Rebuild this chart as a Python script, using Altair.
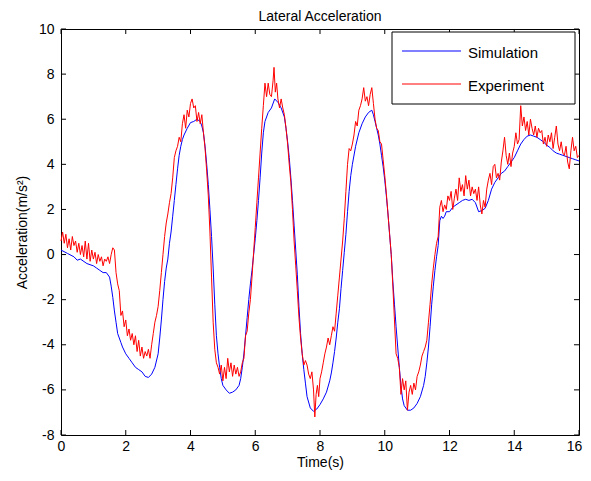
import altair as alt
import pandas as pd

# ---- Simulation (blue) ----
sim_t = [0.0, 0.2, 0.4, 0.5, 0.6, 0.8, 1.0, 1.1, 1.2, 1.3, 1.4, 1.5, 1.55, 1.6, 1.65, 1.7, 1.75, 1.8, 1.85, 1.9,
         2.0, 2.1, 2.2, 2.3, 2.4, 2.5, 2.6, 2.7, 2.8, 2.9, 3.0, 3.05, 3.1, 3.15, 3.2, 3.25, 3.3, 3.35, 3.4, 3.45,
         3.5, 3.55, 3.6, 3.65, 3.7, 3.75, 3.8, 3.9, 4.0, 4.1, 4.2, 4.3, 4.35, 4.4, 4.45, 4.5, 4.55, 4.6, 4.65, 4.7,
         4.75, 4.8, 4.85, 4.9, 4.95, 5.0, 5.1, 5.2, 5.3, 5.4, 5.5, 5.55, 5.6, 5.65, 5.7, 5.75, 5.8, 5.85, 5.9, 5.95,
         6.0, 6.05, 6.1, 6.15, 6.2, 6.25, 6.3, 6.4, 6.5, 6.6, 6.7, 6.8, 6.9, 6.95, 7.0, 7.05, 7.1, 7.15, 7.2, 7.25,
         7.3, 7.35, 7.4, 7.45, 7.5, 7.55, 7.6, 7.7, 7.8, 7.9, 8.0, 8.1, 8.2, 8.3, 8.35, 8.4, 8.45, 8.5, 8.55, 8.6,
         8.65, 8.7, 8.75, 8.8, 8.85, 8.9, 8.95, 9.0, 9.1, 9.2, 9.3, 9.4, 9.5, 9.6, 9.65, 9.7, 9.75, 9.8, 9.85, 9.9,
         9.95, 10.0, 10.05, 10.1, 10.15, 10.2, 10.25, 10.3, 10.35, 10.4, 10.45, 10.5, 10.55, 10.6, 10.7, 10.8, 10.9,
         11.0, 11.1, 11.2, 11.25, 11.3, 11.35, 11.4, 11.45, 11.5, 11.55, 11.6, 11.65, 11.7, 11.75, 11.8, 11.85, 11.9,
         12.0, 12.1, 12.2, 12.3, 12.4, 12.5, 12.6, 12.7, 12.8, 12.9, 13.0, 13.1, 13.2, 13.3, 13.4, 13.5, 13.6, 13.7,
         13.8, 13.9, 14.0, 14.1, 14.2, 14.3, 14.4, 14.5, 14.6, 14.7, 14.8, 14.9, 15.0, 15.1, 15.2, 15.3, 15.4, 15.5,
         15.6, 15.7, 15.8, 15.9, 16.0]
sim_v = [0.2, 0.05, -0.1, -0.25, -0.2, -0.4, -0.5, -0.6, -0.7, -0.8, -0.8, -1.0, -1.4, -1.9, -2.5, -3.0, -3.5, -3.7, -3.9, -4.1,
         -4.4, -4.6, -4.8, -5.0, -5.1, -5.2, -5.4, -5.45, -5.3, -5.0, -4.4, -3.7, -2.9, -2.0, -1.2, -0.6, -0.2, 0.5, 1.0, 1.7,
         2.4, 3.1, 3.8, 4.4, 4.8, 5.1, 5.3, 5.6, 5.85, 5.9, 6.0, 5.9, 5.7, 5.4, 4.8, 4.0, 3.1, 2.0, 0.8, -0.6,
         -2.2, -3.6, -4.4, -5.0, -5.5, -5.8, -6.0, -6.15, -6.1, -6.0, -5.8, -5.5, -5.0, -4.4, -3.6, -2.8, -2.0, -1.3, -0.7, 0.0,
         0.7, 1.5, 2.4, 3.4, 4.5, 5.4, 5.9, 6.3, 6.5, 6.9, 6.75, 6.5, 6.1, 5.6, 5.0, 4.3, 3.4, 2.4, 1.3, 0.2,
         -0.9, -2.3, -3.5, -4.4, -5.1, -5.7, -6.3, -6.8, -6.95, -6.85, -6.65, -6.4, -6.1, -5.6, -5.25, -4.8, -4.3, -3.7, -3.0, -2.4,
         -1.5, -0.7, 0.1, 0.9, 1.9, 2.8, 3.5, 4.0, 4.8, 5.4, 5.8, 6.1, 6.3, 6.4, 6.2, 5.9, 5.6, 5.3, 4.9, 4.4,
         3.9, 3.3, 2.6, 1.8, 0.9, 0.0, -1.2, -2.2, -3.2, -4.1, -5.0, -5.8, -6.4, -6.7, -6.9, -6.9, -6.8,
         -6.6, -6.3, -5.8, -5.4, -4.8, -4.1, -3.2, -2.2, -1.4, -0.7, -0.1, 0.4, 1.5, 1.7, 1.6, 1.7, 1.9,
         1.9, 2.1, 2.2, 2.3, 2.4, 2.45, 2.4, 2.45, 2.3, 1.9, 1.95, 2.05, 2.4, 2.9, 3.2, 3.4, 3.6, 3.7,
         3.9, 4.1, 4.3, 4.6, 4.9, 5.1, 5.25, 5.3, 5.25, 5.2, 5.1, 5.0, 4.85, 4.75, 4.6, 4.5, 4.45, 4.4,
         4.35, 4.3, 4.25, 4.2, 4.15]

# ---- Experiment (red) ----
exp_t = [0.00, 0.05, 0.10, 0.15, 0.20, 0.25, 0.30, 0.35, 0.40, 0.45, 0.50, 0.55, 0.60, 0.65, 0.70, 0.75, 0.80, 0.85,
         0.90, 0.95, 1.00, 1.05, 1.10, 1.15, 1.20, 1.25, 1.30, 1.35, 1.40, 1.45, 1.50, 1.55, 1.60, 1.65,
         1.70, 1.75, 1.80, 1.85, 1.90, 1.95, 2.00, 2.05, 2.10, 2.15, 2.20, 2.25, 2.30, 2.35, 2.40, 2.45, 2.50,
         2.55, 2.60, 2.65, 2.70, 2.75, 2.80, 2.85, 2.90, 2.95, 3.00, 3.05, 3.10, 3.15, 3.20, 3.25, 3.30, 3.35,
         3.40, 3.45, 3.50, 3.55, 3.60, 3.65, 3.70, 3.75, 3.80, 3.85, 3.90, 3.95, 4.00, 4.05, 4.10, 4.15, 4.20,
         4.25, 4.30, 4.35, 4.40, 4.45, 4.50, 4.55, 4.60, 4.65, 4.70, 4.75, 4.80, 4.85, 4.90, 4.95, 5.00, 5.05,
         5.10, 5.15, 5.20, 5.25, 5.30, 5.35, 5.40, 5.45, 5.50, 5.55, 5.60, 5.65, 5.70, 5.75, 5.80, 5.85, 5.90,
         5.95, 6.00, 6.05, 6.10, 6.15, 6.20, 6.25, 6.30, 6.35, 6.40, 6.45, 6.50, 6.55, 6.58, 6.62, 6.66, 6.70,
         6.75, 6.80, 6.85, 6.90, 6.95, 7.00, 7.05, 7.10, 7.15, 7.20, 7.25, 7.30, 7.35, 7.40, 7.45, 7.50, 7.55,
         7.60, 7.65, 7.70, 7.75, 7.80, 7.84, 7.88, 7.92, 7.96, 8.00, 8.05, 8.10, 8.15, 8.20, 8.25, 8.30, 8.35,
         8.40, 8.45, 8.50, 8.55, 8.60, 8.65, 8.70, 8.75, 8.80, 8.85, 8.90, 8.95, 9.00, 9.05, 9.10, 9.15, 9.20,
         9.25, 9.30, 9.35, 9.40, 9.45, 9.50, 9.55, 9.60, 9.65, 9.70, 9.75, 9.80, 9.85, 9.90, 9.95, 10.00, 10.05,
         10.10, 10.15, 10.20, 10.25, 10.30, 10.35, 10.40, 10.45, 10.50, 10.55, 10.60, 10.65, 10.70, 10.75, 10.80,
         10.85, 10.90, 10.95, 11.00, 11.05, 11.10, 11.15, 11.20, 11.25, 11.30, 11.35, 11.40, 11.45, 11.50, 11.55,
         11.60, 11.65, 11.70, 11.75, 11.80, 11.85, 11.90, 11.95, 12.00, 12.05, 12.10, 12.15, 12.20, 12.25, 12.30,
         12.35, 12.40, 12.45, 12.50, 12.55, 12.60, 12.65, 12.70, 12.75, 12.80, 12.85, 12.90, 12.95, 13.00, 13.05,
         13.10, 13.15, 13.20, 13.25, 13.30, 13.35, 13.40, 13.45, 13.50, 13.55, 13.60, 13.65, 13.70, 13.75, 13.80,
         13.85, 13.90, 13.95, 14.00, 14.05, 14.10, 14.15, 14.20, 14.25, 14.30, 14.35, 14.40, 14.45, 14.50, 14.55,
         14.60, 14.65, 14.70, 14.75, 14.80, 14.85, 14.90, 14.95, 15.00, 15.05, 15.10, 15.15, 15.20, 15.25, 15.30,
         15.35, 15.40, 15.45, 15.50, 15.55, 15.60, 15.65, 15.70, 15.75, 15.80, 15.85, 15.90, 15.95, 16.00]
exp_v = [0.6, 1.0, 0.5, 0.9, 0.3, 0.7, 0.2, 0.8, 0.4, 0.6, 0.1, 0.5, 0.0, 0.4, -0.1, 0.6, -0.2, 0.5,
         -0.3, 0.2, -0.2, 0.1, -0.4, 0.0, -0.3, -0.1, -0.5, -0.2, -0.3, -0.1, -0.4, 0.0, 0.3, 0.2,
         -0.8, -1.3, -1.6, -2.7, -2.5, -3.2, -2.9, -3.6, -3.3, -3.8, -3.5, -4.0, -3.6, -4.3, -3.8, -4.5, -4.1,
         -4.6, -4.3, -4.5, -4.2, -4.6, -4.0, -3.5, -3.0, -2.7, -2.3, -1.6, -0.8, 0.0, 0.8, 1.4, 1.8, 2.3,
         2.7, 3.4, 4.3, 4.6, 4.8, 5.2, 5.0, 5.8, 6.2, 5.6, 6.4, 6.1, 6.7, 6.9, 6.5, 6.6, 5.9,
         6.3, 5.8, 6.2, 5.4, 4.7, 3.7, 2.6, 1.0, -1.0, -3.0, -4.2, -4.8, -5.0, -5.3, -4.9, -5.6, -5.0,
         -5.5, -4.6, -5.2, -4.8, -5.4, -4.9, -5.3, -5.0, -5.4, -5.2, -4.8, -4.6, -3.6, -3.4, -2.6, -2.0, -1.0,
         0.1, 1.2, 2.3, 3.4, 4.5, 5.6, 6.6, 7.6, 7.0, 7.6, 7.1, 7.0, 7.7, 8.3, 7.2, 7.6, 6.9,
         6.5, 6.9, 6.5, 6.2, 5.6, 4.9, 4.0, 3.2, 2.0, 0.6, -0.5, -1.6, -2.8, -3.7, -4.4, -4.9, -4.7,
         -4.9, -5.3, -5.5, -5.2, -6.0, -7.2, -6.2, -5.8, -6.3, -5.5, -5.2, -4.8, -4.4, -4.1, -3.7, -4.0, -3.6,
         -3.2, -3.4, -2.6, -1.8, -1.0, -0.2, 0.6, 1.6, 2.8, 4.0, 4.7, 4.6, 4.9, 5.3, 5.9, 5.7, 6.4,
         6.6, 6.9, 7.4, 6.8, 7.0, 6.6, 7.1, 7.4, 6.7, 6.0, 5.6, 5.5, 5.0, 4.9, 4.2, 3.5, 2.7,
         1.8, 0.9, 0.0, -1.4, -2.9, -4.4, -4.6, -5.0, -6.2, -5.5, -6.0, -5.6, -6.9, -6.1, -5.8,
         -6.2, -5.7, -6.0, -5.4, -5.2, -4.9, -4.5, -4.3, -4.1, -3.8, -3.0, -2.2, -1.3, -0.6, 0.0,
         0.5, 0.8, 2.1, 2.4, 1.9, 2.2, 2.0, 2.6, 2.4, 2.8, 2.0, 2.5, 2.9, 2.4, 3.4,
         2.8, 3.1, 2.6, 3.5, 2.9, 3.3, 2.6, 3.0, 2.7, 2.9, 2.4, 3.0, 2.2, 1.8, 2.4,
         2.1, 2.9, 3.3, 3.6, 3.1, 3.9, 4.0, 3.4, 3.6, 3.3, 4.1, 4.6, 5.2, 4.4, 4.0,
         4.5, 3.9, 4.5, 4.8, 5.4, 4.9, 5.1, 6.6, 5.7, 6.1, 5.5, 5.9, 5.3, 6.0, 5.6,
         5.3, 5.7, 5.2, 5.6, 5.4, 5.5, 4.9, 5.2, 4.8, 5.3, 5.0, 5.4, 4.7, 5.2, 5.7,
         4.9, 4.6, 5.0, 4.5, 4.4, 4.8, 4.1, 3.8, 4.6, 5.2, 4.6, 4.8, 4.3, 4.4]

x_ticks = [0, 2, 4, 6, 8, 10, 12, 14, 16]
y_ticks = [-8, -6, -4, -2, 0, 2, 4, 6, 8, 10]
series_names = ["Simulation", "Experiment"]
series_colors = ["#0000ff", "#ff0000"]

W, H = 518, 406
FONT = "Liberation Sans"

sim_df = pd.DataFrame({"t": sim_t, "v": sim_v})
exp_df = pd.DataFrame({"t": exp_t, "v": exp_v})
xt_df = pd.DataFrame({"t": x_ticks})
yt_df = pd.DataFrame({"v": y_ticks})

X = alt.X("t:Q", scale=alt.Scale(domain=[0, 16], nice=False),
          axis=alt.Axis(values=x_ticks, title="Time(s)", labelPadding=4, titlePadding=2, labelFlush=False,
                        labelOffset={"condition": {"test": "datum.value == 16", "value": -5}, "value": 0}))
Y = alt.Y("v:Q", scale=alt.Scale(domain=[-8, 10], nice=False),
          axis=alt.Axis(values=y_ticks, title="Acceleration(m/s²)", labelPadding=7, titlePadding=9,
                        labelFlush=False, labelExpr="datum.value + ''"))

sim_line = alt.Chart(sim_df).mark_line(color=series_colors[0], strokeWidth=1).encode(x=X, y=Y, order="t:Q")
exp_line = alt.Chart(exp_df).mark_line(color=series_colors[1], strokeWidth=1).encode(x=X, y=Y, order="t:Q")

tick_style = dict(color="black", strokeWidth=1)
xt_bottom = alt.Chart(xt_df).mark_rule(**tick_style).encode(x=X, y=alt.value(H), y2=alt.value(H - 5))
xt_top = alt.Chart(xt_df).mark_rule(**tick_style).encode(x=X, y=alt.value(0), y2=alt.value(5))
yt_left = alt.Chart(yt_df).mark_rule(**tick_style).encode(y=Y, x=alt.value(0), x2=alt.value(5))
yt_right = alt.Chart(yt_df).mark_rule(**tick_style).encode(y=Y, x=alt.value(W), x2=alt.value(W - 5))

# legend (box, sample lines, labels)
leg_df = pd.DataFrame({"series": series_names})
leg_box = alt.Chart(leg_df.head(1)).mark_rect(fill="white", stroke="black", strokeWidth=1).encode(
    x=alt.value(331), x2=alt.value(514), y=alt.value(3), y2=alt.value(75))
leg_layers = [leg_box]
for i, (name, col) in enumerate(zip(series_names, series_colors)):
    one = pd.DataFrame({"series": [name]})
    yy = 22 + 33 * i
    leg_layers.append(alt.Chart(one).mark_rule(color=col, strokeWidth=1).encode(
        x=alt.value(341), x2=alt.value(400), y=alt.value(yy)))
    leg_layers.append(alt.Chart(one).mark_text(align="left", baseline="middle", font=FONT, fontSize=15,
                                               color="black").encode(
        text="series:N", x=alt.value(407), y=alt.value(yy + 2)))

chart = alt.layer(sim_line, exp_line, xt_bottom, xt_top, yt_left, yt_right, *leg_layers).properties(
    width=W, height=H,
    background="white",
    title=alt.TitleParams("Lateral Acceleration", font=FONT, fontSize=14, fontWeight="normal",
                          color="black", anchor="middle", offset=-2),
    autosize=alt.AutoSizeParams(type="none"),
    padding={"left": 53, "top": 21, "right": 4, "bottom": 38},
).configure_axis(
    labelFont=FONT, labelFontSize=14, labelColor="black",
    titleFont=FONT, titleFontSize=14, titleFontWeight="normal", titleColor="black",
    domain=False, ticks=False, tickSize=0, grid=False,
).configure_view(stroke="black", strokeWidth=1)

chart.save("out.html", embed_options={"renderer": "svg", "actions": False})
